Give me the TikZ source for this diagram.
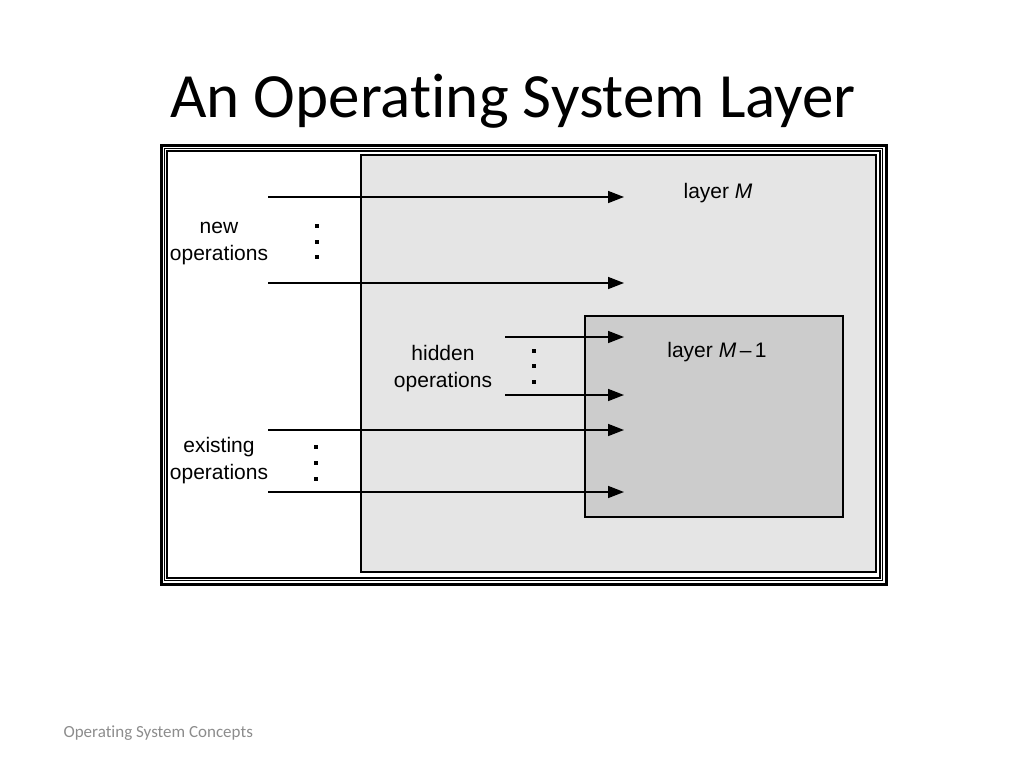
\documentclass[tikz,border=0pt]{standalone}
\usepackage{fontspec}
\setmainfont{Carlito}[Ligatures=NoCommon]
\newfontfamily\figfont{Liberation Sans}
\usetikzlibrary{arrows.meta,positioning}
\definecolor{layerM}{gray}{0.90}
\definecolor{layerMM}{gray}{0.80}
\definecolor{footgray}{gray}{0.55}
\begin{document}
\begin{tikzpicture}[x=1pt,y=-1pt,
  op/.style={-{Triangle[length=16pt,width=12pt]},line width=1.6pt},
  lbl/.style={font=\figfont\fontsize{21}{27}\selectfont,align=center,inner sep=0pt},
  box/.style={line width=1.3pt}]
\useasboundingbox (0,0) rectangle (1024,768);

% Baslik
\node[font=\fontsize{63}{70}\selectfont] (title) at (513,101) {An Operating System Layer};

% Cerceve
\draw[line width=3pt] (161,145) rectangle (886,584);
\draw[line width=1.2pt] (164.5,148.5) rectangle (882.5,580.5);
\draw[line width=1.2pt] (167,151) rectangle (880,578);

% Katmanlar
\draw[box,fill=layerM] (361,155) rectangle (876,572);
\draw[box,fill=layerMM] (585,316) rectangle (843,517);
\node[lbl] (lm) at (718,193) {layer \textit{M}};
\node[lbl] (lmm) at (717,352) {layer \textit{M}\,–\,1};

% Islemler
\node[lbl] (newops) at (219,244) {new\\operations};
\node[lbl] (hidops) at (443,369) {hidden\\operations};
\node[lbl] (exops) at (219,461) {existing\\operations};

% Oklar
\foreach \i/\x/\y in {1/268/197, 2/268/283, 3/505/337, 4/505/395, 5/268/430, 6/268/492} {
  \coordinate (s\i) at (\x,\y);
  \coordinate (e\i) at (624,\y);
  \draw[op] (s\i) -- (e\i);
}

% Noktalar
\foreach \x/\y in {317/226, 317/241.5, 317/257, 534/351, 534/366, 534/382, 316/447, 316/463, 316/479}
  \fill (\x-2,\y-2) rectangle (\x+2,\y+2);

% Alt bilgi
\node[font=\fontsize{17}{20}\selectfont,text=footgray,anchor=west] (foot) at (60,733) {Operating System Concepts};
\end{tikzpicture}
\end{document}
